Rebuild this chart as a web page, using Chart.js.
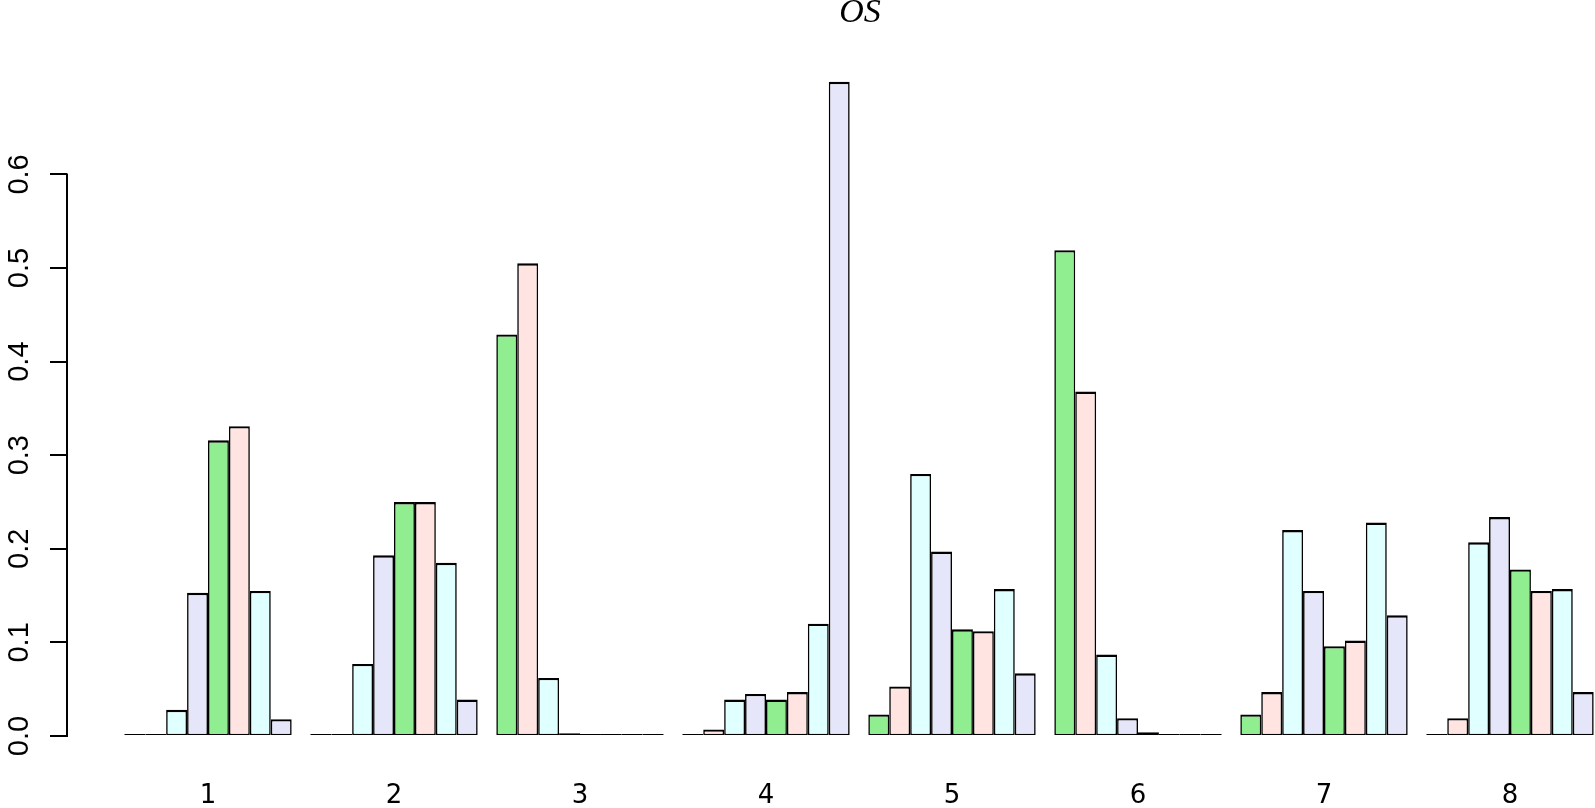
<!DOCTYPE html>
<html>
<head>
<meta charset="utf-8">
<title>OS</title>
<script src="https://cdn.jsdelivr.net/npm/chart.js@4/dist/chart.umd.min.js"></script>
<style>
    html, body { margin: 0; padding: 0; background: #fff; overflow: hidden; }
    #wrap { width: 1720px; height: 808px; }
</style>
</head>
<body>
<div id="wrap"><canvas id="osChart" width="1720" height="808"></canvas></div>
<script>
// groups on the x axis
var categories = ['1', '2', '3', '4', '5', '6', '7', '8'];

// bar k inside each group
var bar1 = [0, 0, 0.429, 0.001, 0.023, 0.519, 0.023, 0.002];
var bar2 = [0, 0.002, 0.505, 0.007, 0.053, 0.368, 0.047, 0.019];
var bar3 = [0.028, 0.077, 0.062, 0.039, 0.280, 0.087, 0.220, 0.207];
var bar4 = [0.153, 0.193, 0.003, 0.045, 0.197, 0.019, 0.155, 0.234];
var bar5 = [0.316, 0.250, 0, 0.039, 0.114, 0.004, 0.096, 0.178];
var bar6 = [0.331, 0.250, 0, 0.047, 0.112, 0.002, 0.102, 0.155];
var bar7 = [0.155, 0.185, 0, 0.120, 0.157, 0, 0.228, 0.157];
var bar8 = [0.018, 0.039, 0, 0.699, 0.067, 0, 0.129, 0.047];

var yTicks = [0, 0.1, 0.2, 0.3, 0.4, 0.5, 0.6];

var colors = ['#90EE90', '#FFE4E1', '#E0FFFF', '#E6E6FA'];

var series = [bar1, bar2, bar3, bar4, bar5, bar6, bar7, bar8];
var datasets = series.map(function(values, i) {
    return {
        data: values,
        backgroundColor: colors[i % 4],
        borderColor: '#000',
        // shared edges between neighbours add up to ~2-3px like R
        borderWidth: { left: 1.6, right: 1.6, top: 2.4, bottom: 1.2 },
        borderSkipped: false,
        inflateAmount: 0,
        minBarLength: 2,
        categoryPercentage: 0.9,
        barPercentage: 1.0
    };
});

// R style axis line, only from first to last tick
var axisLine = {
    id: 'axisLine',
    afterDraw: function(chart) {
        var y = chart.scales.y;
        var ctx = chart.ctx;
        ctx.save();
        ctx.strokeStyle = '#000';
        ctx.lineWidth = 2;
        ctx.beginPath();
        ctx.moveTo(y.right, y.getPixelForValue(yTicks[0]) + 1);
        ctx.lineTo(y.right, y.getPixelForValue(yTicks[yTicks.length - 1]) - 1);
        ctx.stroke();
        ctx.restore();
    }
};

var chart = new Chart(document.getElementById('osChart'), {
    type: 'bar',
    data: {
        labels: categories,
        datasets: datasets
    },
    plugins: [axisLine],
    options: {
        responsive: false,
        animation: false,
        devicePixelRatio: 1,
        layout: { padding: 0 },
        plugins: {
            legend: { display: false },
            tooltip: { enabled: false },
            title: {
                display: true,
                text: 'OS',
                color: '#000',
                font: { family: 'Liberation Serif', style: 'italic', weight: 'normal', size: 34, lineHeight: 1 },
                padding: { top: -4, bottom: 10 }
            }
        },
        scales: {
            x: {
                type: 'linear',
                offset: false,
                min: 0.242,
                max: 9.129,
                grid: { display: false, drawTicks: false },
                border: { display: false },
                afterBuildTicks: function(scale) {
                    scale.ticks = categories.map(function(c, i) { return { value: i + 1 }; });
                },
                afterFit: function(scale) { scale.height = 72; },
                ticks: {
                    color: '#000',
                    padding: 47,
                    maxRotation: 0,
                    font: { family: 'DejaVu Sans', size: 26, lineHeight: 1 },
                    callback: function(v) { return categories[v - 1]; }
                }
            },
            y: {
                min: 0,
                max: 0.7436,
                grid: { drawOnChartArea: false, drawTicks: true, tickLength: 17, color: '#000', lineWidth: 2 },
                border: { display: false },
                afterBuildTicks: function(scale) {
                    scale.ticks = yTicks.map(function(v) { return { value: v }; });
                },
                afterFit: function(scale) { scale.width = 67; },
                ticks: {
                    color: '#000',
                    padding: 10,
                    minRotation: 90,
                    maxRotation: 90,
                    crossAlign: 'center',
                    font: { family: 'Liberation Sans', size: 29, lineHeight: 1 },
                    callback: function(v) { return v.toFixed(1); }
                }
            }
        }
    }
});
</script>
</body>
</html>
